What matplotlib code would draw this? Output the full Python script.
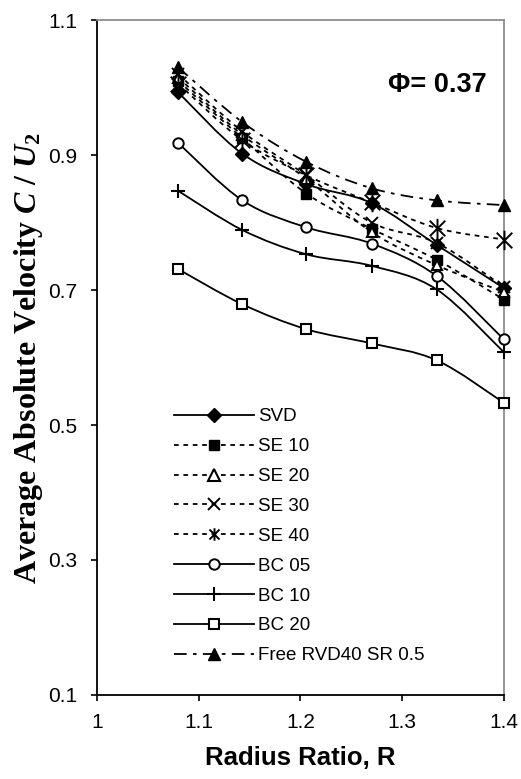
import matplotlib
matplotlib.use("Agg")
import matplotlib.pyplot as plt
from matplotlib.path import Path
from matplotlib.patches import PathPatch
from matplotlib.lines import Line2D

# ---- data ----
radius_ratio = [1.08, 1.143, 1.206, 1.27, 1.334, 1.4]
svd = [0.993, 0.902, 0.857, 0.829, 0.767, 0.703]
se10 = [1.010, 0.925, 0.843, 0.791, 0.745, 0.686]
se20 = [1.015, 0.930, 0.865, 0.786, 0.737, 0.697]
se30 = [1.020, 0.935, 0.870, 0.800, 0.770, 0.705]
se40 = [1.006, 0.922, 0.870, 0.830, 0.792, 0.775]
bc05 = [0.918, 0.833, 0.793, 0.769, 0.721, 0.627]
bc10 = [0.847, 0.789, 0.753, 0.736, 0.701, 0.608]
bc20 = [0.731, 0.679, 0.642, 0.621, 0.596, 0.533]
free_rvd = [1.030, 0.949, 0.890, 0.851, 0.833, 0.826]
labels = ["SVD", "SE 10", "SE 20", "SE 30", "SE 40", "BC 05", "BC 10", "BC 20", "Free RVD40 SR 0.5"]
x_ticks = [1, 1.1, 1.2, 1.3, 1.4]
y_ticks = [0.1, 0.3, 0.5, 0.7, 0.9, 1.1]

plt.rcParams['font.family'] = ['Liberation Sans', 'DejaVu Sans']
plt.rcParams['mathtext.fontset'] = 'custom'
plt.rcParams['mathtext.it'] = 'Liberation Serif:italic:bold'
plt.rcParams['mathtext.rm'] = 'Liberation Serif:bold'

fig = plt.figure(figsize=(5.21, 7.79), dpi=100)
ax = fig.add_axes([0.186, 0.108, 0.781, 0.866])

dash = (0, (2.6, 2.6))
dashdot = (0, (7, 3.5, 2, 3.5))

# asterisk: X plus vertical bar
star = Path([(-0.8, -0.8), (0.8, 0.8), (-0.8, 0.8), (0.8, -0.8), (0, -1.0), (0, 1.0)],
            [Path.MOVETO, Path.LINETO, Path.MOVETO, Path.LINETO, Path.MOVETO, Path.LINETO])

styles = [
    dict(ls='-', marker='D', mfc='black', mec='black', ms=7, lms=7),
    dict(ls=dash, marker='s', mfc='black', mec='black', ms=6.5, lms=7),
    dict(ls=dash, marker='^', mfc='white', mec='black', ms=7, lms=8, mew=1.5),
    dict(ls=dash, marker='x', mfc='black', mec='black', ms=8, lms=8, mew=1.4),
    dict(ls=dash, marker=star, mfc='black', mec='black', ms=14, lms=9, mew=1.4),
    dict(ls='-', marker='o', mfc='white', mec='black', ms=7.5, lms=7.5, mew=1.4),
    dict(ls='-', marker='+', mfc='black', mec='black', ms=10, lms=10, mew=1.5),
    dict(ls='-', marker='s', mfc='white', mec='black', ms=7.5, lms=7, mew=1.5),
    dict(ls=dashdot, marker='^', mfc='black', mec='black', ms=9, lms=9),
]
series = [svd, se10, se20, se30, se40, bc05, bc10, bc20, free_rvd]


def smooth_path(xs, ys):
    pts = list(zip(xs, ys))
    n = len(pts)
    verts = [pts[0]]
    codes = [Path.MOVETO]
    for i in range(n - 1):
        p0 = pts[i - 1] if i > 0 else pts[i]
        p1 = pts[i]
        p2 = pts[i + 1]
        p3 = pts[i + 2] if i + 2 < n else pts[i + 1]
        c1 = (p1[0] + (p2[0] - p0[0]) / 6, p1[1] + (p2[1] - p0[1]) / 6)
        c2 = (p2[0] - (p3[0] - p1[0]) / 6, p2[1] - (p3[1] - p1[1]) / 6)
        verts += [c1, c2, p2]
        codes += [Path.CURVE4] * 3
    return Path(verts, codes)


handles = []
for k, (vals, st) in enumerate(zip(series, styles)):
    patch = PathPatch(smooth_path(radius_ratio, vals), fill=False, edgecolor='black',
                      linewidth=1.3, linestyle=st['ls'], zorder=2 + k * 0.01)
    ax.add_patch(patch)
    ax.plot(radius_ratio, vals, linestyle='none', marker=st['marker'], ms=st['ms'],
            mfc=st['mfc'], mec=st['mec'], mew=st.get('mew', 1.0), zorder=3 + k * 0.01,
            clip_on=False)
    handles.append(Line2D([], [], color='black', linewidth=1.3, linestyle=st['ls'],
                          marker=st['marker'], ms=st['lms'], mfc=st['mfc'], mec=st['mec'],
                          mew=st.get('mew', 1.0)))

ax.set_xlim(1, 1.4)
ax.set_ylim(0.1, 1.1)
ax.set_xticks(x_ticks)
ax.set_xticklabels(["1", "1.1", "1.2", "1.3", "1.4"])
ax.set_yticks(y_ticks)
ax.set_yticklabels(["0.1", "0.3", "0.5", "0.7", "0.9", "1.1"])
ax.tick_params(axis='x', direction='out', length=4, width=1.2, labelsize=15, pad=9)
ax.tick_params(axis='y', direction='out', length=4, width=1.2, labelsize=15, pad=10)

for s in ['left', 'bottom']:
    ax.spines[s].set_color('black')
    ax.spines[s].set_linewidth(1.3)
for s in ['top', 'right']:
    ax.spines[s].set_color('#8c8c8c')
    ax.spines[s].set_linewidth(1.3)

ax.set_xlabel("Radius Ratio, R", fontsize=18.5, fontweight='bold')
ax.xaxis.set_label_coords(0.5, -0.094)
ax.xaxis.label.set_va('center')
ax.set_ylabel(r"Average Absolute Velocity $C$ / $U_2$", fontsize=23, fontweight='bold',
              family='Liberation Serif')
ax.yaxis.set_label_coords(-0.168, 0.5)
ax.yaxis.label.set_va('center')

ax.text(0.715, 0.904, "\u03a6= 0.37", transform=ax.transAxes, fontsize=19.5, fontweight='bold',
        ha='left', va='center')

leg = ax.legend(handles, labels, loc='upper left', bbox_to_anchor=(0.17, 0.436),
                frameon=False, fontsize=13.5, handlelength=4.3, handletextpad=0.2,
                labelspacing=0.68, borderaxespad=0)

fig.savefig("out.png", dpi=100)
